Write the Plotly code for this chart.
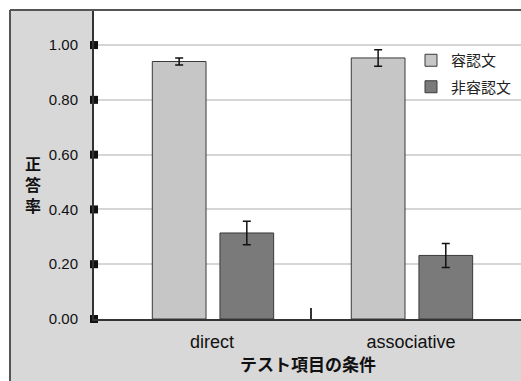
import plotly.graph_objects as go

# Mean accuracy (正答率) per test-item condition, with error-bar half widths
categories = ["direct", "associative"]
series_names = ["容認文", "非容認文"]
accept_vals = [0.940, 0.953]
accept_err = [0.013, 0.030]
reject_vals = [0.314, 0.232]
reject_err = [0.043, 0.044]
y_tick_vals = [0.0, 0.2, 0.4, 0.6, 0.8, 1.0]
y_tick_text = ["0.00", "0.20", "0.40", "0.60", "0.80", "1.00"]
x_title = "テスト項目の条件"
y_title = "正答率"

W, H = 521, 381
ML, MT, MR, MB = 94, 10, 0, 62
PW, PH = W - ML - MR, H - MT - MB

X_RANGE = [-0.593, 1.553]
Y_RANGE = [0, 1.128]


def px_x(px):
    return (px - ML) / PW


def px_y(py):
    return (H - MB - py) / PH


FONT = "Liberation Sans, Arial, Noto Sans CJK JP, sans-serif"
LIGHT = "#c6c6c6"
DARK = "#7a7a7a"
PANEL = "#d8d8d8"
EDGE = "#3a3a3a"

xpos = list(range(len(categories)))

fig = go.Figure()
fig.add_trace(go.Bar(
    x=xpos, y=accept_vals, name=series_names[0], legendgroup="a",
    width=0.27, offset=-0.30,
    marker=dict(color=LIGHT, line=dict(color=EDGE, width=1)),
    error_y=dict(type="data", array=accept_err, color="#111", thickness=1.5, width=4),
))
fig.add_trace(go.Bar(
    x=xpos, y=reject_vals, name=series_names[1], legendgroup="b",
    width=0.27, offset=0.04,
    marker=dict(color=DARK, line=dict(color=EDGE, width=1)),
    error_y=dict(type="data", array=reject_err, color="#111", thickness=1.5, width=4),
))
# square tick markers on the value axis
fig.add_trace(go.Scatter(
    x=[X_RANGE[0]] * len(y_tick_vals), y=y_tick_vals, mode="markers",
    marker=dict(symbol="square", size=8, color="#111"),
    cliponaxis=False, showlegend=False, hoverinfo="skip",
))

shapes = [
    # grey panels left of and below the plot area
    dict(type="rect", xref="paper", yref="paper", layer="below",
         x0=px_x(10), x1=px_x(ML), y0=px_y(H), y1=px_y(10),
         fillcolor=PANEL, line=dict(width=0)),
    dict(type="rect", xref="paper", yref="paper", layer="below",
         x0=px_x(ML), x1=px_x(W), y0=px_y(H), y1=px_y(H - MB),
         fillcolor=PANEL, line=dict(width=0)),
    # outer frame
    dict(type="line", xref="paper", yref="paper",
         x0=px_x(10), x1=px_x(10), y0=px_y(H), y1=px_y(10),
         line=dict(color="#555", width=2)),
    dict(type="line", xref="paper", yref="paper",
         x0=px_x(10), x1=px_x(W), y0=px_y(10), y1=px_y(10),
         line=dict(color="#555", width=2)),
]

annotations = [
    dict(text=x_title, xref="paper", yref="paper", x=px_x(308), y=px_y(365),
         xanchor="center", yanchor="middle", showarrow=False,
         font=dict(family=FONT, size=17, color="#111", weight="bold")),
    dict(text="<br>".join(y_title), xref="paper", yref="paper", x=px_x(33), y=px_y(185),
         xanchor="center", yanchor="middle", showarrow=False,
         font=dict(family=FONT, size=16, color="#111", weight="bold")),
]

fig.update_layout(
    width=W, height=H,
    margin=dict(l=ML, r=MR, t=MT, b=MB, pad=0),
    paper_bgcolor="white", plot_bgcolor="white",
    font=dict(family=FONT, color="#111"),
    showlegend=True,
    legend=dict(x=px_x(411), y=px_y(44), xanchor="left", yanchor="top",
                bgcolor="rgba(0,0,0,0)", font=dict(family=FONT, size=15, color="#222"),
                tracegroupgap=4, itemclick=False),
    shapes=shapes, annotations=annotations,
    bargap=0.3,
)
fig.update_xaxes(
    range=X_RANGE, tickvals=xpos, ticktext=categories,
    ticks="outside", ticklen=5, tickcolor="rgba(0,0,0,0)",
    tickfont=dict(family=FONT, size=18, color="#111"),
    showline=True, linecolor="#333", linewidth=2,
    showgrid=False, zeroline=False,
    minor=dict(tickvals=[0.5], ticks="inside", ticklen=11, tickwidth=1.5, tickcolor="#333", showgrid=False),
)
fig.update_yaxes(
    range=Y_RANGE, tickvals=y_tick_vals, ticktext=y_tick_text,
    ticks="outside", ticklen=11, tickcolor="rgba(0,0,0,0)",
    tickfont=dict(family=FONT, size=15, color="#111"),
    showline=True, linecolor="#333", linewidth=2,
    showgrid=True, gridcolor="#d6d6d6", gridwidth=1.5, zeroline=False,
)

fig.write_html("out.html")
